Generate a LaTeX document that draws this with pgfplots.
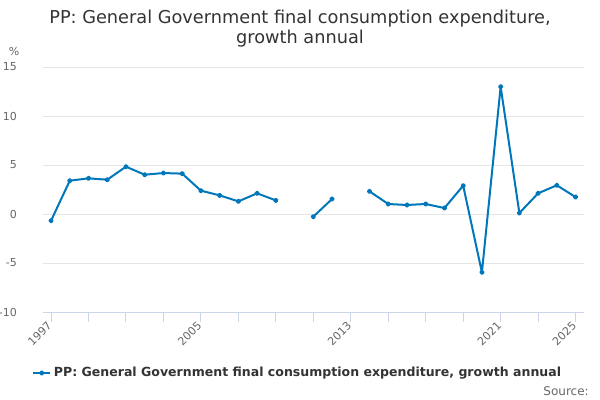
\documentclass[border=0pt]{standalone}
\usepackage{pgfplots}
\pgfplotsset{compat=1.18}
\usepackage{fontspec}
\setmainfont{DejaVu Sans}
\definecolor{series}{HTML}{0077BB}
\definecolor{gridc}{HTML}{E6E6E6}
\definecolor{axisc}{HTML}{CCD6EB}
\definecolor{titlec}{HTML}{333333}
\definecolor{labelc}{HTML}{666666}
\begin{document}
\begin{tikzpicture}
\useasboundingbox (0,0) rectangle (450pt,300pt);
\node[anchor=base, font=\fontsize{13.3pt}{16pt}\selectfont, text=titlec, inner sep=0] at (225pt,282pt) {PP: General Government final consumption expenditure,};
\node[anchor=base, font=\fontsize{13.3pt}{16pt}\selectfont, text=titlec, inner sep=0] at (225pt,267pt) {growth annual};
\node[anchor=base, font=\fontsize{8.25pt}{10pt}\selectfont, text=labelc, inner sep=0] at (10.5pt,258pt) {\%};
\node[anchor=base east, font=\fontsize{9pt}{11pt}\selectfont, text=labelc, inner sep=0] at (441.75pt,3.75pt) {Source:};
\begin{axis}[
  at={(32.25pt,66pt)}, anchor=south west,
  scale only axis, width=405.75pt, height=183.75pt,
  xmin=1996.57, xmax=2025.45, ymin=-10, ymax=15,
  axis line style={draw=none},
  axis x line*=bottom,
  ytick={-10,-5,0,5,10,15},
  ymajorgrids, grid style={gridc, line width=0.75pt},
  xtick={1997,2005,2013,2021,2025},
  minor xtick={1999,2001,2003,2007,2009,2011,2015,2017,2019,2023},
  tick align=outside, xtick pos=bottom, major tick length=7.5pt, minor tick length=7.5pt,
  xtick style={axisc, line width=0.75pt},
  xminorgrids=false,
  ytick style={draw=none},
  /pgf/number format/assume math mode=true,
  /pgf/number format/1000 sep={},
  ticklabel style={font=\fontsize{8.25pt}{10pt}\selectfont, text=labelc},
  yticklabel style={anchor=east, xshift=-8.5pt},
  xticklabel style={rotate=45, anchor=east, xshift=2pt, yshift=0pt},
  unbounded coords=jump,
  clip=false,
  legend style={at={(0.4713,-0.249)}, anchor=center, draw=none, fill=none,
    font=\fontsize{9.4pt}{12pt}\selectfont\bfseries, text=titlec,
    legend cell align=left},
  legend image code/.code={\draw[mark repeat=2,mark phase=2] plot coordinates {(0pt,0pt)(6.4pt,0pt)(12.8pt,0pt)};},
]
\draw[axisc, line width=0.75pt] (rel axis cs:0,0) -- (rel axis cs:1,0);
\addplot[series, line width=1.5pt, line join=round, mark=*, mark size=1.25pt, mark options={solid}] coordinates {
(1997,-0.68) (1998,3.40) (1999,3.64) (2000,3.50) (2001,4.83) (2002,4.01) (2003,4.18)
(2004,4.12) (2005,2.38) (2006,1.90) (2007,1.29) (2008,2.11) (2009,1.39) (2010,nan)
(2011,-0.27) (2012,1.53) (2013,nan) (2014,2.31) (2015,1.02) (2016,0.92) (2017,1.02)
(2018,0.61) (2019,2.89) (2020,-5.95) (2021,12.99) (2022,0.10) (2023,2.11) (2024,2.93) (2025,1.73)
};
\addlegendentry{PP: General Government final consumption expenditure, growth annual}
\end{axis}
\end{tikzpicture}
\end{document}
